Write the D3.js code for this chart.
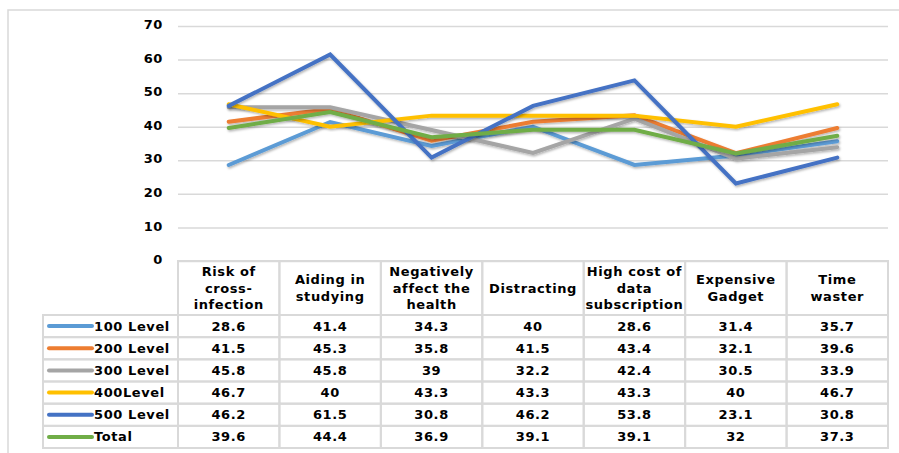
<!DOCTYPE html>
<html>
<head>
<meta charset="utf-8">
<script src="https://cdn.jsdelivr.net/npm/d3@7"></script>
<style>
  body { margin: 0; background: #fff; }
  svg { display: block; font-family: "DejaVu Sans", Verdana, sans-serif; font-weight: bold; }
  svg text { letter-spacing: 0.6px; }
</style>
</head>
<body>
<svg width="899" height="453"></svg>
<script>
const categories = ["Risk of|cross-|infection", "Aiding in|studying", "Negatively|affect the|health",
  "Distracting", "High cost of|data|subscription", "Expensive|Gadget", "Time|waster"];
const seriesNames = ["100 Level", "200 Level", "300 Level", "400Level", "500 Level", "Total"];
const seriesColors = ["#5b9bd5", "#ed7d31", "#a5a5a5", "#ffc000", "#4472c4", "#70ad47"];
const level100 = [28.6, 41.4, 34.3, 40, 28.6, 31.4, 35.7];
const level200 = [41.5, 45.3, 35.8, 41.5, 43.4, 32.1, 39.6];
const level300 = [45.8, 45.8, 39, 32.2, 42.4, 30.5, 33.9];
const level400 = [46.7, 40, 43.3, 43.3, 43.3, 40, 46.7];
const level500 = [46.2, 61.5, 30.8, 46.2, 53.8, 23.1, 30.8];
const total = [39.6, 44.4, 36.9, 39.1, 39.1, 32, 37.3];
const yTicks = [0, 10, 20, 30, 40, 50, 60, 70];

const values = [level100, level200, level300, level400, level500, total];
const series = seriesNames.map((n, i) => ({name: n, color: seriesColors[i], vals: values[i]}));

const svg = d3.select("svg");
const grid = "#d9d9d9";

// outer frame
svg.append("rect").attr("x", 8).attr("y", 10).attr("width", 900).attr("height", 450)
  .attr("fill", "none").attr("stroke", grid).attr("stroke-width", 1.5);

const x = d3.scaleBand().domain(d3.range(categories.length)).range([178, 888]);
const y = d3.scaleLinear().domain([0, 70]).range([261, 26]);

// y axis + gridlines
const yAxis = svg.append("g").attr("transform", "translate(178,0)")
  .call(d3.axisLeft(y).tickValues(yTicks).tickSize(-710).tickPadding(15));
yAxis.select(".domain").remove();
yAxis.selectAll("line").attr("stroke", grid).attr("stroke-width", 1.5);
yAxis.selectAll("text").attr("font-size", 13).attr("font-family", "DejaVu Sans")
  .attr("font-weight", "bold").attr("fill", "#000").attr("dy", "0.2em");

// shadow
const defs = svg.append("defs");
defs.append("filter").attr("id", "sh").attr("x", "-10%").attr("y", "-10%").attr("width", "120%").attr("height", "130%")
  .append("feDropShadow").attr("dx", 1).attr("dy", 1.5).attr("stdDeviation", 1)
  .attr("flood-color", "#000").attr("flood-opacity", 0.3);

const line = d3.line().x((d, i) => x(i) + x.bandwidth() / 2).y(d => y(d));
svg.append("g").selectAll("path").data(series).join("path")
  .attr("d", d => line(d.vals))
  .attr("fill", "none").attr("stroke", d => d.color).attr("stroke-width", 4)
  .attr("stroke-linejoin", "miter").attr("stroke-linecap", "round")
  .attr("filter", "url(#sh)");

// data table
const rowY = d3.scaleBand().domain(seriesNames).range([315, 448]);
const tbl = svg.append("g");
const headTop = 261, headBot = 315;

// header cells
tbl.selectAll("rect.h").data(categories).join("rect").attr("class", "h")
  .attr("x", (d, i) => x(i)).attr("y", headTop).attr("width", x.bandwidth()).attr("height", headBot - headTop)
  .attr("fill", "none").attr("stroke", grid).attr("stroke-width", 2);

categories.forEach((c, i) => {
  const lines = c.split("|");
  const lh = 16.5;
  const cy = (headTop + headBot) / 2 - (lines.length - 1) * lh / 2;
  const t = tbl.append("text").attr("text-anchor", "middle").attr("font-size", 13).attr("fill", "#000");
  lines.forEach((l, j) => {
    t.append("tspan").attr("x", x(i) + x.bandwidth() / 2).attr("y", cy + j * lh).attr("dy", "0.35em").text(l);
  });
});

// body rows
series.forEach(s => {
  const ry = rowY(s.name), rh = rowY.bandwidth();
  tbl.append("rect").attr("x", 43).attr("y", ry).attr("width", 135).attr("height", rh)
    .attr("fill", "none").attr("stroke", grid).attr("stroke-width", 2);
  tbl.append("line").attr("x1", 49).attr("x2", 92).attr("y1", ry + rh / 2).attr("y2", ry + rh / 2)
    .attr("stroke", s.color).attr("stroke-width", 4).attr("stroke-linecap", "round");
  tbl.append("text").attr("x", 94).attr("y", ry + rh / 2).attr("dy", "0.35em")
    .attr("font-size", 13).attr("fill", "#000").text(s.name);
  s.vals.forEach((v, i) => {
    tbl.append("rect").attr("x", x(i)).attr("y", ry).attr("width", x.bandwidth()).attr("height", rh)
      .attr("fill", "none").attr("stroke", grid).attr("stroke-width", 2);
    tbl.append("text").attr("x", x(i) + x.bandwidth() / 2).attr("y", ry + rh / 2).attr("dy", "0.35em")
      .attr("text-anchor", "middle").attr("font-size", 13).attr("fill", "#000").text(v);
  });
});
</script>
</body>
</html>
